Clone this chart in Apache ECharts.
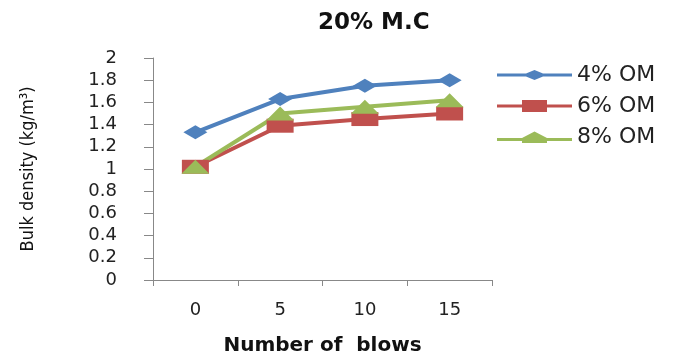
<!DOCTYPE html>
<html>
<head>
<meta charset="utf-8">
<script src="https://cdn.jsdelivr.net/npm/echarts@6/dist/echarts.min.js"></script>
<style>
html,body{margin:0;padding:0;background:#fff;}
#chart{width:683px;height:354px;}
</style>
</head>
<body>
<div id="chart"></div>
<script>
var categories = ['0', '5', '10', '15'];
var om4 = [1.33, 1.63, 1.75, 1.80];
var om6 = [1.02, 1.39, 1.45, 1.50];
var om8 = [1.02, 1.50, 1.56, 1.62];
var seriesNames = ['4% OM', '6% OM', '8% OM'];
var colors = ['#4F81BD', '#C0504D', '#9BBB59'];

// legend icons: line with marker, in a 75 x 14 box
var dot = 'M0,0 L0.01,0 L0.01,0.01 Z M75,14 L74.99,14 L74.99,13.99 Z ';
var legendIcons = [
  'path://' + dot + 'M0,5.5 L29,5.5 L37.5,2 L46,5.5 L75,5.5 L75,8.5 L46,8.5 L37.5,12 L29,8.5 L0,8.5 Z',
  'path://' + dot + 'M0,5.5 L25,5.5 L25,1 L50,1 L50,5.5 L75,5.5 L75,8.5 L50,8.5 L50,13 L25,13 L25,8.5 L0,8.5 Z',
  'path://' + dot + 'M0,8 L25,8 L37.5,1.5 L50,8 L75,8 L75,11 L50,11 L50,13 L25,13 L25,11 L0,11 Z'
];

var chart = echarts.init(document.getElementById('chart'));
var font = 'DejaVu Sans, Verdana, sans-serif';
chart.setOption({
  animation: false,
  backgroundColor: '#fff',
  title: {
    text: '20% M.C',
    left: 313,
    top: 7,
    textStyle: { fontFamily: font, fontWeight: 'bold', fontSize: 23, color: '#111' }
  },
  legend: {
    orient: 'vertical',
    left: 492,
    top: 59,
    itemWidth: 75,
    itemHeight: 14,
    itemGap: 9,
    data: seriesNames.map(function (n, i) {
      return { name: n, icon: legendIcons[i], itemStyle: { color: colors[i] } };
    }),
    textStyle: { fontFamily: font, fontSize: 22, color: '#222' }
  },
  grid: { left: 153, right: 191, top: 58, bottom: 74, containLabel: false, outerBoundsMode: 'none' },
  xAxis: {
    type: 'category',
    data: categories,
    boundaryGap: true,
    name: 'Number of  blows',
    nameLocation: 'middle',
    nameGap: 56,
    nameTextStyle: { fontFamily: font, fontWeight: 'bold', fontSize: 20, color: '#111' },
    axisLine: { lineStyle: { color: '#888', width: 1 } },
    axisTick: { show: true, length: 6, lineStyle: { color: '#888' } },
    axisLabel: { fontFamily: font, fontSize: 18, color: '#222', margin: 21 },
    splitLine: { show: false }
  },
  yAxis: {
    type: 'value',
    min: 0,
    max: 2,
    interval: 0.2,
    name: 'Bulk density (kg/m³)',
    nameLocation: 'middle',
    nameRotate: 90,
    nameGap: 116,
    nameTextStyle: { fontFamily: 'Liberation Sans Narrow, DejaVu Sans Condensed, sans-serif', fontSize: 18, color: '#111' },
    axisLine: { show: true, lineStyle: { color: '#888', width: 1 } },
    axisTick: { show: true, length: 9, lineStyle: { color: '#888' } },
    axisLabel: {
      fontFamily: font, fontSize: 18, color: '#222', margin: 36,
      formatter: function (v) { return String(Math.round(v * 10) / 10); }
    },
    splitLine: { show: false }
  },
  series: [
    {
      name: seriesNames[0], type: 'line', data: om4,
      symbol: 'diamond', symbolSize: [24, 14],
      lineStyle: { color: colors[0], width: 4 },
      itemStyle: { color: colors[0] }
    },
    {
      name: seriesNames[1], type: 'line', data: om6,
      symbol: 'rect', symbolSize: [27, 14],
      lineStyle: { color: colors[1], width: 4 },
      itemStyle: { color: colors[1] }
    },
    {
      name: seriesNames[2], type: 'line', data: om8,
      symbol: 'triangle', symbolSize: [28, 14],
      lineStyle: { color: colors[2], width: 4 },
      itemStyle: { color: colors[2] }
    }
  ]
});
</script>
</body>
</html>
